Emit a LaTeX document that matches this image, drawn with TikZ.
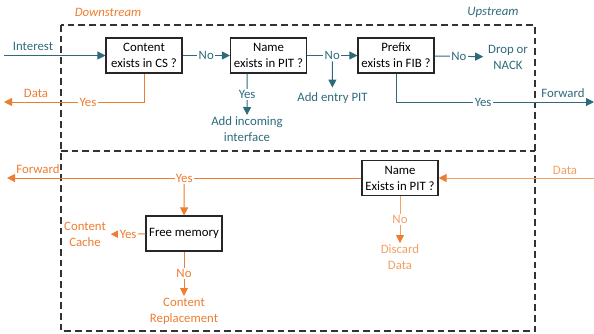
\documentclass[tikz,border=0pt]{standalone}
\usepackage{fontspec}
\setmainfont{Carlito}
\usetikzlibrary{arrows.meta}
\definecolor{netteal}{RGB}{47,106,124}
\definecolor{netorange}{RGB}{237,125,49}
\definecolor{netlight}{RGB}{243,160,100}
\begin{document}
\begin{tikzpicture}[x=0.75pt,y=-0.75pt,font=\fontsize{9.6}{12}\selectfont,
  box/.style={draw=black!85,line width=0.8pt,fill=white,minimum width=57pt,minimum height=26.25pt,inner sep=1pt,align=center},
  tag/.style={fill=white,inner sep=1pt},
  up/.style={color=netteal,line width=0.75pt},
  down/.style={color=netorange,line width=0.75pt},
  faint/.style={color=netlight,line width=0.75pt},
  tip/.style={-{Triangle[length=6pt,width=6pt]}},
  tipdark/.style={-{Triangle[length=6pt,width=6pt,color=netorange]}},
  zone/.style={draw=black!80,line width=0.9pt,dash pattern=on 5pt off 3pt}]
\useasboundingbox (0,0) rectangle (594,333);
\draw[zone] (61,25) rectangle (535,331);
\draw[zone] (61,151) -- (535,151);
\node[netorange,font=\fontsize{9.6}{12}\selectfont\itshape] (downlbl) at (108,12) {Downstream};
\node[netteal,font=\fontsize{9.6}{12}\selectfont\itshape] (uplbl) at (493,12) {Upstream};
\node[box] (cs) at (144,55.5) {Content\\exists in CS ?};
\node[box] (pit) at (268.5,55.5) {Name\\exists in PIT ?};
\node[box] (fib) at (396,55.5) {Prefix\\exists in FIB ?};
\node[box] (pitd) at (400,178) {Name\\Exists in PIT ?};
\node[box] (mem) at (184,233.5) {Free memory};
\coordinate (in) at (4,0);
\coordinate (dataout) at (4,102);
\coordinate (fwd) at (594,102);
\coordinate (datain) at (594,178);
\coordinate (fwdout) at (7,178);
\node[up] (interest) at (33,46) {Interest};
\draw[up,tip] (in |- cs.west) -- (cs.west);
\draw[up,tip] (cs) -- node[tag] {No} (pit);
\draw[up,tip] (pit) -- node[tag] (no2) {No} (fib);
\node[up] (entry) at (332.5,98) {Add entry PIT};
\draw[up,tip] (no2) -- (entry);
\node[up,align=center,anchor=north,inner sep=1pt] (incoming) at (247,115) {Add incoming\\interface};
\draw[up,tip] ([xshift=-16pt]pit.south) -- node[tag] {Yes} (incoming);
\node[up,align=center] (drop) at (508,57) {Drop or\\NACK};
\draw[up,tip] (fib) -- node[tag] {No} (drop);
\draw[up,tip] (fib.south) |- node[tag,pos=0.72] {Yes} (fwd);
\node[up] (fwdlbl) at (563,93) {Forward};
\draw[down,tip] (cs.south) |- node[tag,pos=0.7] {Yes} (dataout);
\node[down] (datalbl) at (36,93) {Data};
\draw[faint,tipdark] (datain) -- (pitd);
\node[faint] (datainlbl) at (565,170) {Data};
\draw[down,tip] (pitd) -- node[tag] (yes3) {Yes} (fwdout);
\node[down] (fwdoutlbl) at (38,169) {Forward};
\draw[down,tip] (yes3) -- (mem);
\node[down,align=center] (cache) at (85,234.5) {Content\\Cache};
\draw[down,tip] (mem) -- node[tag] {Yes} (cache);
\node[down,align=center,anchor=north,inner sep=1pt] (repl) at (184,296) {Content\\Replacement};
\draw[down,tip] (mem) -- node[tag] {No} (repl);
\node[faint,align=center,anchor=north,inner sep=1pt] (discard) at (400,243) {Discard\\Data};
\draw[faint,tipdark] (pitd) -- node[tag] {No} (discard);
\end{tikzpicture}
\end{document}
